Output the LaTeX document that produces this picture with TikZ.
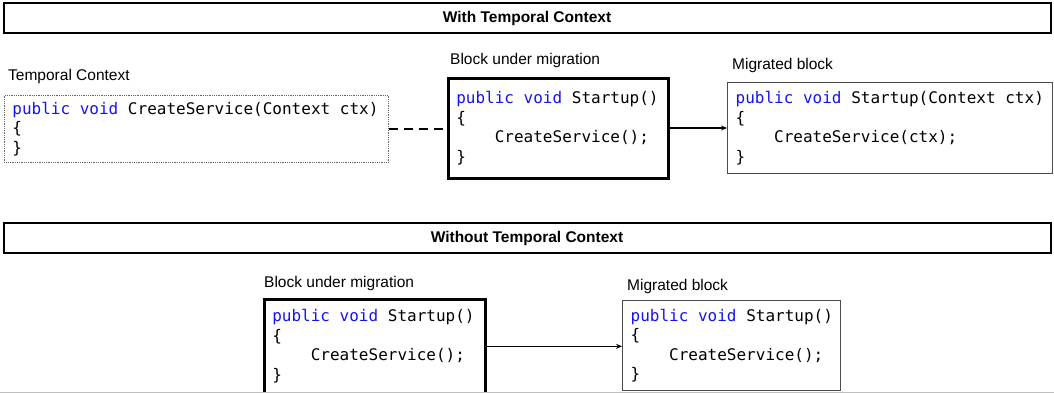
\documentclass[tikz,border=0pt]{standalone}
\usepackage{fontspec}
\setmainfont{Liberation Sans}
\setmonofont{DejaVu Sans Mono}
\usetikzlibrary{positioning,arrows.meta}
\definecolor{kwblue}{RGB}{20,20,240}
\newcommand{\kw}[1]{\textcolor{kwblue}{#1}}
\newcommand{\sk}{\phantom{x}}
\newcommand{\ind}{\phantom{xxxx}}

\begin{document}
\begin{tikzpicture}[x=1pt, y=-1pt,
    banner/.style={rectangle, draw, line width=2pt, minimum width=1047pt, minimum height=30pt, font=\fontsize{15.5}{17}\selectfont\bfseries},
    caption/.style={anchor=south west, inner sep=0pt, font=\fontsize{15.5}{17}\selectfont},
    codebox/.style={rectangle, anchor=north west, align=left, inner xsep=8pt, inner ysep=0pt, font=\ttfamily\fontsize{16}{19.5}\selectfont},
    ctxbox/.style={codebox, draw=gray!80!black, densely dotted, line width=0.8pt},
    oldbox/.style={codebox, draw, line width=2.6pt},
    newbox/.style={codebox, draw=gray!60!black, line width=1.3pt},
    arrow/.style={-{Stealth[length=6pt,width=5pt]}, line width=1.5pt},
    link/.style={line width=2pt, dash pattern=on 9pt off 6pt}
]
\useasboundingbox (0,0) rectangle (1054,393);

% Titoli
\node[banner] (withctx) at (527,18) {With Temporal Context};
\node[banner] (noctx) at (527,238) {Without Temporal Context};

% Con contesto temporale
\node[ctxbox, text width=368pt, minimum height=67pt] (ctx) at (4,95) {\kw{public\sk void}\sk CreateService(Context\sk ctx)\\\{\\\}};
\node[oldbox, text width=204pt, minimum height=100pt] (old1) at (447,77) {\kw{public\sk void}\sk Startup()\\\{\\\ind CreateService();\\\}\\[-4pt]};
\node[newbox, text width=309pt, minimum height=91pt] (new1) at (727,82) {\kw{public\sk void}\sk Startup(Context\sk ctx)\\\{\\\ind CreateService(ctx);\\\}};

\node[caption] (ctxlbl) at (8,84) {Temporal Context};
\node[caption] (old1lbl) at (450,68) {Block under migration};
\node[caption] (new1lbl) at (732,73) {Migrated block};

% Senza contesto temporale
\node[oldbox, text width=205pt, minimum height=94pt] (old2) at (263,298) {\kw{public\sk void}\sk Startup()\\\{\\\ind CreateService();\\\}};
\node[newbox, text width=202pt, minimum height=90pt] (new2) at (622,300) {\kw{public\sk void}\sk Startup()\\\{\\\ind CreateService();\\\}};

\node[caption] (old2lbl) at (264,291) {Block under migration};
\node[caption] (new2lbl) at (627,294) {Migrated block};

% Connessioni
\draw[link] (ctx.east |- 0,129) -- (old1.west |- 0,129);
\draw[arrow] (old1.east |- 0,128) -- (new1.west |- 0,128);
\draw[arrow] (old2) -- (old2 -| new2.west);

% bordo pagina
\draw[gray!50, line width=1pt] (0,392) -- (1054,392);
\end{tikzpicture}
\end{document}
